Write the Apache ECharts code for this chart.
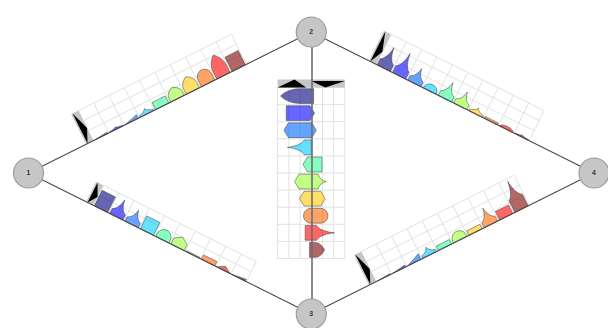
<!DOCTYPE html>
<html>
<head>
<meta charset="utf-8">
<script src="https://cdn.jsdelivr.net/npm/echarts@6/dist/echarts.min.js"></script>
<style>
  html, body { margin: 0; padding: 0; background: #fff; }
  #main { width: 608px; height: 328px; }
</style>
</head>
<body>
<div id="main"></div>
<script>
// ---- network ----
const nodeNames = ['1', '2', '3', '4'];
const nodeLayout = [[-1, 0], [0, 1], [0, -1], [1, 0]];
const links = [[0, 1], [1, 3], [0, 2], [2, 3], [1, 2]];

// ---- per-link bar charts (ten categories each) ----
const categories = ['A', 'B', 'C', 'D', 'E', 'F', 'G', 'H', 'I', 'J'];
const values12 = [1.3, 2.2, 3.6, 5.4, 7.1, 11.3, 14.3, 13.4, 20.5, 14.3];
const values24 = [20.5, 22.3, 14.7, 6.3, 16.1, 14.3, 5.9, 1.8, 2.7, 1.8];
const values13 = [15.5, 16.8, 14.3, 12.8, 9.3, 10.1, 0.9, 4.3, 4.0, 1.8];
const values34 = [0.9, 1.8, 5.4, 7.8, 4.5, 8.2, 4.5, 16.3, 8.5, 27.7];
// the 2–3 chart shows ranges from a low to a high value
const low23 = [-27.4, -22.3, -24.4, -21.4, -7.4, -14.9, -10.4, -6.9, -5.4, -1.5];
const high23 = [2.1, 2.9, 4.5, 0, 9.6, 13.4, 12.5, 14.9, 20.8, 11.9];

// ---- styling ----
const palette = ['#000080', '#0000ff', '#0066ff', '#00ccff', '#33ff99',
                 '#99ff33', '#ffcc00', '#ff6600', '#ff0000', '#800000'];
const tips12 = ['slant', 'spike', 'slant', 'spike', 'flat', 'arch', 'arch', 'round', 'arch', 'flat'];
const tips24 = ['spike', 'spike', 'spike', 'round', 'spike', 'spike', 'spike', 'flat', 'round', 'spike'];
const tips13 = ['flat', 'spike', 'spike', 'flat', 'round', 'point', 'flat', 'flat', 'point', 'slant'];
const tips34 = ['slant', 'slant', 'slant', 'spike', 'flat', 'round', 'flat', 'spike', 'flat', 'spike'];
const tipsHigh23 = ['flat', 'point', 'point', 'flat', 'flat', 'sting', 'point', 'round', 'spike', 'arch'];
const tipsLow23 = ['arch', 'flat', 'point', 'spike', 'point', 'point', 'point', 'round', 'flat', 'flat'];

const linkCharts = [
  { link: 0, high: values12, highTips: tips12 },
  { link: 1, high: values24, highTips: tips24 },
  { link: 2, high: values13, highTips: tips13 },
  { link: 3, high: values34, highTips: tips34 },
  { link: 4, low: low23, high: high23, lowTips: tipsLow23, highTips: tipsHigh23 }
];

const BAND = 17.1;        // px per category along the link
const HEADER = 8;         // px of the header strip
const STEP = 10;          // value grid step
const PX_PER_UNIT = 1.12; // value scale
const BAR_HALF = 7.4;

function linearValue(v) { return v * PX_PER_UNIT; }

function chartFrame(api, ci) {
  const c = linkCharts[ci];
  const [a, b] = links[c.link];
  const p0 = api.coord(nodeLayout[a]);
  const p1 = api.coord(nodeLayout[b]);
  const dx = p1[0] - p0[0], dy = p1[1] - p0[1];
  const len = Math.hypot(dx, dy);
  const d = [dx / len, dy / len];
  const up = [d[1], -d[0]];
  const start = len / 2 - (HEADER + categories.length * BAND) / 2 - 4;
  const all = c.low ? c.low.concat(c.high) : c.high;
  const top = Math.ceil(Math.max.apply(null, all.map(Math.abs)) / STEP) * STEP;
  return {
    start: start,
    gridStart: start + HEADER,
    vMin: c.low ? -top : 0,
    vMax: top,
    pt: (along, px) => [p0[0] + along * d[0] + px * up[0], p0[1] + along * d[1] + px * up[1]]
  };
}

function quad(p, c, q, n) {
  const out = [];
  for (let i = 0; i <= n; i++) {
    const t = i / n, u = 1 - t;
    out.push([u * u * p[0] + 2 * u * t * c[0] + t * t * q[0],
              u * u * p[1] + 2 * u * t * c[1] + t * t * q[1]]);
  }
  return out;
}

function capDepth(type, L) {
  L = Math.max(L, 0);
  switch (type) {
    case 'point': return Math.min(4.5, L);
    case 'arch': return Math.min(0.65 * L, 20);
    case 'round': return Math.min(BAR_HALF, L);
    case 'spike': return Math.min(0.7 * L, 18);
    case 'sting': return Math.min(8, L);
    case 'slant': return L;
    default: return 0;
  }
}

// outline of one end of a bar, walked from aFrom to aTo
function capPoints(type, aFrom, aTo, vEnd, s, c) {
  const base = vEnd - s * c;
  const mid = (aFrom + aTo) / 2;
  if (c <= 0 || type === 'flat') return [[aFrom, vEnd], [aTo, vEnd]];
  if (type === 'point') return [[aFrom, base], [mid, vEnd], [aTo, base]];
  if (type === 'slant') return [[aFrom, base], [aTo, vEnd]];
  if (type === 'round') {
    const out = [];
    for (let i = 0; i <= 12; i++) {
      const t = Math.PI * i / 12;
      out.push([aFrom + (aTo - aFrom) * (1 - Math.cos(t)) / 2, base + s * c * Math.sin(t)]);
    }
    return out;
  }
  if (type === 'arch') {
    const left = quad([aFrom, base], [aFrom, vEnd - s * 0.4 * c], [mid, vEnd], 8);
    const right = quad([mid, vEnd], [aTo, vEnd - s * 0.4 * c], [aTo, base], 8);
    return left.concat(right.slice(1));
  }
  // spike / sting: concave sides
  const left = quad([aFrom, base], [aFrom + 0.8 * (mid - aFrom), base + s * 0.2 * c], [mid, vEnd], 8);
  const right = quad([mid, vEnd], [aTo + 0.8 * (mid - aTo), base + s * 0.2 * c], [aTo, base], 8);
  return left.concat(right.slice(1));
}

function renderFrame(params, api) {
  const ci = api.value(0);
  const f = chartFrame(api, ci);
  const minPx = linearValue(f.vMin), maxPx = linearValue(f.vMax);
  const gEnd = f.gridStart + categories.length * BAND;
  const children = [];
  const gridStyle = { stroke: '#e2e2e2', lineWidth: 1 };
  for (let v = f.vMin; v <= f.vMax + 1e-6; v += STEP) {
    const a = f.pt(f.gridStart, linearValue(v)), b = f.pt(gEnd, linearValue(v));
    children.push({ type: 'line', shape: { x1: a[0], y1: a[1], x2: b[0], y2: b[1] }, style: gridStyle });
  }
  for (let i = 0; i <= categories.length; i++) {
    const al = f.gridStart + i * BAND;
    const a = f.pt(al, minPx), b = f.pt(al, maxPx);
    children.push({ type: 'line', shape: { x1: a[0], y1: a[1], x2: b[0], y2: b[1] }, style: gridStyle });
  }
  const s = f.start;
  children.push({
    type: 'polygon',
    shape: { points: [f.pt(s, minPx), f.pt(s + HEADER, minPx), f.pt(s + HEADER, maxPx), f.pt(s, maxPx)] },
    style: { fill: '#c6c6c6' }
  });
  children.push({
    type: 'polygon',
    shape: { points: [f.pt(s + 1.5, 0), f.pt(s + 1.5, maxPx), f.pt(s + HEADER, 0.42 * maxPx)] },
    style: { fill: '#000' }
  });
  if (f.vMin < 0) {
    children.push({
      type: 'polygon',
      shape: { points: [f.pt(s + HEADER, minPx), f.pt(s + HEADER, 0.15 * minPx), f.pt(s, 0.5 * minPx)] },
      style: { fill: '#000' }
    });
  }
  return { type: 'group', children: children };
}

function renderBar(params, api) {
  const ci = api.value(0), bi = api.value(1);
  const lo = linearValue(api.value(2)), hi = linearValue(api.value(3));
  const c = linkCharts[ci];
  const f = chartFrame(api, ci);
  const center = f.gridStart + (bi + 0.5) * BAND;
  const a0 = center - BAR_HALF, a1 = center + BAR_HALF;
  const L = hi - lo;
  const hType = c.highTips[bi];
  const lType = c.lowTips ? c.lowTips[bi] : 'flat';
  const hc = capDepth(hType, L);
  const lc = Math.min(capDepth(lType, L), Math.max(L - hc, 0));
  const local = capPoints(hType, a0, a1, hi, 1, hc).concat(capPoints(lType, a1, a0, lo, -1, lc));
  return {
    type: 'polygon',
    shape: { points: local.map(p => f.pt(p[0], p[1])) },
    style: { fill: palette[bi], opacity: 0.6, stroke: '#333', lineWidth: 0.8 }
  };
}

const frameData = linkCharts.map((c, i) => [i, 0]);
const barData = [];
linkCharts.forEach((c, ci) => {
  categories.forEach((cat, bi) => {
    barData.push([ci, bi, c.low ? c.low[bi] : 0, c.high[bi]]);
  });
});

const chart = echarts.init(document.getElementById('main'), null, { renderer: 'canvas' });
chart.setOption({
  animation: false,
  backgroundColor: '#fff',
  grid: { left: 28.5, right: 14, top: 32, bottom: 14, containLabel: false },
  xAxis: { type: 'value', min: -1, max: 1, show: false },
  yAxis: { type: 'value', min: -1, max: 1, show: false },
  series: [
    {
      type: 'custom', name: 'frames', coordinateSystem: 'cartesian2d', z: 1,
      renderItem: renderFrame, data: frameData, encode: { x: 0, y: 1 }, silent: true
    },
    {
      type: 'custom', name: 'bars', coordinateSystem: 'cartesian2d', z: 2,
      renderItem: renderBar, data: barData, encode: { x: 0, y: 1 }, silent: true
    },
    {
      type: 'graph', coordinateSystem: 'cartesian2d', z: 3,
      symbolSize: 30,
      data: nodeNames.map((n, i) => ({ name: n, value: nodeLayout[i] })),
      links: links.map((l, i) => ({
        source: l[0], target: l[1],
        lineStyle: i === 4 ? { color: '#6e6e6e', width: 1.6 } : { color: '#4a4a4a', width: 1.1 }
      })),
      itemStyle: { color: '#c6c6c6', borderColor: '#9c9c9c', borderWidth: 1.2 },
      label: { show: true, position: 'inside', fontSize: 7, fontWeight: 'bold', color: '#333', formatter: '{b}' },
      lineStyle: { opacity: 1, curveness: 0 },
      emphasis: { disabled: true }
    }
  ]
});
</script>
</body>
</html>
